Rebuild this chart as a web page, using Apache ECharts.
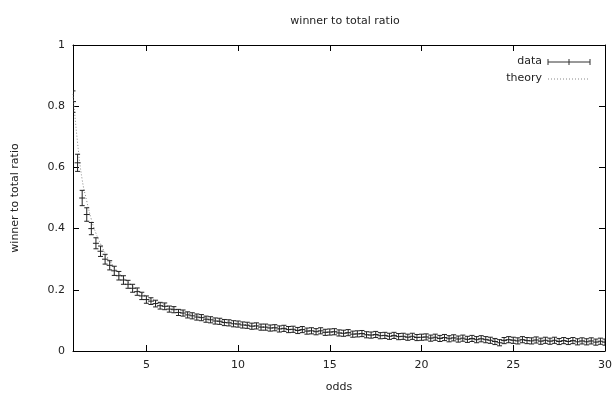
<!DOCTYPE html>
<html><head><meta charset="utf-8">
<script src="https://cdn.jsdelivr.net/npm/echarts@6/dist/echarts.min.js"></script>
<style>html,body{margin:0;padding:0;background:#fff}#c{width:615px;height:401px}</style>
</head><body><div id="c"></div>
<script>
const odds = [1.00,1.25,1.50,1.75,2.00,2.25,2.50,2.75,3.00,3.25,3.50,3.75,4.00,4.25,4.50,4.75,5.00,5.25,5.50,5.75,6.00,6.25,6.50,6.75,7.00,7.25,7.50,7.75,8.00,8.25,8.50,8.75,9.00,9.25,9.50,9.75,10.00,10.25,10.50,10.75,11.00,11.25,11.50,11.75,12.00,12.25,12.50,12.75,13.00,13.25,13.50,13.75,14.00,14.25,14.50,14.75,15.00,15.25,15.50,15.75,16.00,16.25,16.50,16.75,17.00,17.25,17.50,17.75,18.00,18.25,18.50,18.75,19.00,19.25,19.50,19.75,20.00,20.25,20.50,20.75,21.00,21.25,21.50,21.75,22.00,22.25,22.50,22.75,23.00,23.25,23.50,23.75,24.00,24.25,24.50,24.75,25.00,25.25,25.50,25.75,26.00,26.25,26.50,26.75,27.00,27.25,27.50,27.75,28.00,28.25,28.50,28.75,29.00,29.25,29.50,29.75,30.00];
const ratio = [0.815,0.615,0.500,0.446,0.400,0.352,0.326,0.300,0.280,0.262,0.246,0.232,0.218,0.205,0.194,0.180,0.168,0.163,0.155,0.148,0.146,0.137,0.135,0.126,0.124,0.118,0.115,0.111,0.109,0.104,0.102,0.098,0.097,0.093,0.092,0.089,0.088,0.085,0.084,0.081,0.082,0.078,0.078,0.075,0.076,0.072,0.074,0.070,0.071,0.067,0.070,0.065,0.066,0.063,0.066,0.061,0.062,0.063,0.059,0.058,0.060,0.055,0.056,0.057,0.053,0.052,0.054,0.050,0.051,0.048,0.051,0.047,0.048,0.045,0.048,0.044,0.045,0.046,0.042,0.045,0.041,0.044,0.040,0.043,0.039,0.042,0.038,0.041,0.037,0.040,0.037,0.035,0.031,0.027,0.034,0.037,0.035,0.033,0.037,0.034,0.033,0.036,0.032,0.035,0.032,0.035,0.031,0.034,0.031,0.034,0.030,0.033,0.030,0.033,0.029,0.032,0.029];
const errors = [0.035,0.028,0.025,0.022,0.020,0.018,0.017,0.016,0.015,0.015,0.014,0.014,0.013,0.013,0.012,0.012,0.012,0.011,0.011,0.011,0.011,0.010,0.010,0.010,0.010,0.010,0.010,0.010,0.010,0.010,0.010,0.010,0.010,0.010,0.010,0.010,0.010,0.010,0.010,0.010,0.010,0.010,0.010,0.010,0.010,0.010,0.010,0.010,0.010,0.010,0.010,0.010,0.010,0.010,0.010,0.010,0.010,0.010,0.010,0.010,0.010,0.010,0.010,0.010,0.010,0.010,0.010,0.010,0.010,0.010,0.010,0.010,0.010,0.010,0.010,0.010,0.010,0.010,0.010,0.010,0.010,0.010,0.010,0.010,0.010,0.010,0.010,0.010,0.010,0.010,0.010,0.010,0.010,0.010,0.010,0.010,0.010,0.010,0.010,0.010,0.010,0.010,0.010,0.010,0.010,0.010,0.010,0.010,0.010,0.010,0.010,0.010,0.010,0.010,0.010,0.010,0.010];
const theoryX = [1,1.25,1.5,1.75,2,2.25,2.5,2.75,3,3.5,4,4.5,5,6,7,8,9,10,12,14,16,18,20,22,24,26,28,30];
const theoryY = [0.84,0.68,0.56,0.49,0.43,0.385,0.35,0.32,0.295,0.255,0.225,0.2,0.18,0.15,0.129,0.113,0.1,0.09,0.075,0.065,0.057,0.05,0.045,0.041,0.038,0.035,0.032,0.03];
const xTicks = [5,10,15,20,25,30];

const dataPts = odds.map((x,i)=>[x, ratio[i], errors[i]]);
const theoryPts = theoryX.map((x,i)=>[x, theoryY[i]]);
const FONT = 'DejaVu Sans';
const INK = '#222';

const chart = echarts.init(document.getElementById('c'), null, {renderer:'canvas'});
const xBase = {type:'value', min:1, max:30, splitLine:{show:false},
  axisLine:{show:true, onZero:false, lineStyle:{color:'#000', width:1}},
  axisTick:{show:true, inside:true, length:6, customValues:xTicks, lineStyle:{color:'#000'}}};
const yBase = {type:'value', min:0, max:1, interval:0.2, splitLine:{show:false},
  axisLine:{show:true, onZero:false, lineStyle:{color:'#000', width:1}},
  axisTick:{show:true, inside:true, length:6, lineStyle:{color:'#000'}}};

chart.setOption({
  animation:false,
  title:{text:'winner to total ratio', left:340, top:11, textAlign:'center',
    textStyle:{fontFamily:FONT, fontSize:11, fontWeight:'normal', color:INK}},
  grid:{left:73, right:10, top:45, bottom:50},
  xAxis:[
    Object.assign({}, xBase, {position:'bottom', name:'odds', nameLocation:'middle', nameGap:31,
      nameTextStyle:{fontFamily:FONT, fontSize:11, color:INK},
      axisLabel:{customValues:xTicks, margin:9, fontFamily:FONT, fontSize:11, color:INK}}),
    Object.assign({}, xBase, {position:'top', axisLabel:{show:false}})
  ],
  yAxis:[
    Object.assign({}, yBase, {position:'left', name:'winner to total ratio', nameLocation:'middle', nameGap:52,
      nameTextStyle:{fontFamily:FONT, fontSize:11, color:INK},
      axisLabel:{margin:8, fontFamily:FONT, fontSize:11, color:INK}}),
    Object.assign({}, yBase, {position:'right', axisLabel:{show:false}})
  ],
  series:[
    {name:'theory', type:'line', data:theoryPts, smooth:true, showSymbol:false, symbol:'none',
      lineStyle:{color:'#888', width:1, type:[1,2]}, z:2},
    {name:'data', type:'custom', data:dataPts, clip:true, z:3,
      renderItem:function(params, api){
        const x = api.value(0), y = api.value(1), e = api.value(2);
        const c = api.coord([x,y]);
        const top = api.coord([x,y+e])[1];
        const bot = api.coord([x,y-e])[1];
        const st = {stroke:'#222', lineWidth:1};
        const cap = 2.5;
        return {type:'group', children:[
          {type:'line', shape:{x1:c[0], y1:top, x2:c[0], y2:bot}, style:st},
          {type:'line', shape:{x1:c[0]-cap, y1:top, x2:c[0]+cap, y2:top}, style:st},
          {type:'line', shape:{x1:c[0]-cap, y1:bot, x2:c[0]+cap, y2:bot}, style:st},
          {type:'line', shape:{x1:c[0]-3, y1:c[1], x2:c[0]+3, y2:c[1]}, style:st}
        ]};
      }}
  ],
  graphic:[
    {type:'text', right:615-542, top:56, style:{text:'data', fontFamily:FONT, fontSize:11, fill:INK, textAlign:'right'}},
    {type:'line', shape:{x1:548, y1:62, x2:590, y2:62}, style:{stroke:'#333', lineWidth:1}},
    {type:'line', shape:{x1:548, y1:59, x2:548, y2:65}, style:{stroke:'#333', lineWidth:1}},
    {type:'line', shape:{x1:590, y1:59, x2:590, y2:65}, style:{stroke:'#333', lineWidth:1}},
    {type:'line', shape:{x1:569, y1:59, x2:569, y2:65}, style:{stroke:'#333', lineWidth:1}},
    {type:'text', right:615-542, top:73, style:{text:'theory', fontFamily:FONT, fontSize:11, fill:INK, textAlign:'right'}},
    {type:'line', shape:{x1:548, y1:79, x2:590, y2:79}, style:{stroke:'#888', lineWidth:1, lineDash:[1,2]}}
  ]
});
</script></body></html>
